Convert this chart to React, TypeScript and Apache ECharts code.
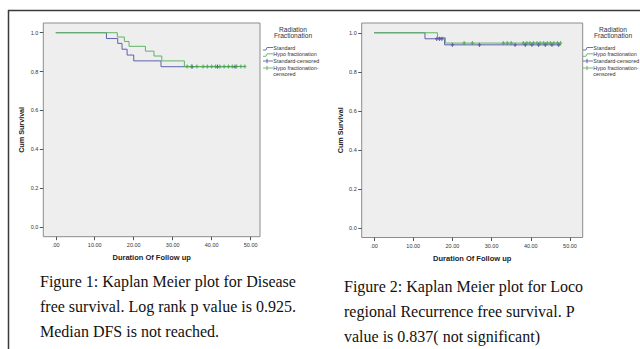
import React, { useEffect, useRef } from 'react';
import * as echarts from 'echarts';

// ---- tick values ----
const X_TICKS = [0, 10, 20, 30, 40, 50];
const Y_TICKS = [0, 0.2, 0.4, 0.6, 0.8, 1.0];

// ---- Figure 1: Disease free survival ----
const F1_STANDARD_T = [0, 13.0, 15.9, 17.0, 18.3, 20.0, 27.0, 46.0];
const F1_STANDARD_S = [1.0, 0.97, 0.945, 0.915, 0.885, 0.855, 0.825, 0.825];
const F1_HYPO_T = [0, 15.8, 17.6, 18.8, 23.0, 25.2, 27.2, 33.0, 48.5];
const F1_HYPO_S = [1.0, 0.978, 0.955, 0.93, 0.905, 0.88, 0.855, 0.826, 0.826];
const F1_STANDARD_CENS_T = [35.0, 41.5, 46.0];
const F1_HYPO_CENS_T = [33.7, 34.8, 36.2, 37.8, 38.9, 40.0, 41.0, 42.1, 43.2, 44.3, 45.3, 46.4, 47.5, 48.5];

// ---- Figure 2: Loco-regional recurrence free survival ----
const F2_STANDARD_T = [0, 13.0, 18.0, 47.6];
const F2_STANDARD_S = [1.0, 0.969, 0.938, 0.938];
const F2_HYPO_T = [0, 16.2, 18.2, 47.6];
const F2_HYPO_S = [1.0, 0.975, 0.947, 0.947];
const F2_STANDARD_CENS_T = [16.0, 16.7, 17.3, 20.0, 26.9, 36.0, 38.6, 40.3, 42.0, 43.7, 45.4, 47.1];
const F2_HYPO_CENS_T = [23.0, 25.1, 33.0, 34.0, 35.0, 38.1, 39.0, 39.8, 40.7, 41.6, 42.4, 43.3, 44.2, 45.0, 45.9, 46.8, 47.6];

// ---- texts ----
const LEGEND_TITLE = ['Radiation', 'Fractionation'];
const LEGEND_LABELS = ['Standard', 'Hypo fractionation', 'Standard-censored', 'Hypo fractionation-', 'censored'];
const Y_NAME = 'Cum Survival';
const X_NAME = 'Duration Of Follow up';
const CAPTION_1 = [
  'Figure 1: Kaplan Meier plot for Disease',
  'free survival. Log rank p value is 0.925.',
  'Median DFS is not reached.',
];
const CAPTION_2 = [
  'Figure 2: Kaplan Meier plot for Loco',
  'regional Recurrence free survival. P',
  'value is 0.837( not significant)',
];

const BLUE = '#5c62a8';
const GREEN = '#62b462';
const GREEN_MARK = '#43a34b';
const BLUE_MARK = '#4a5298';
const SANS = '"Liberation Sans", Arial, sans-serif';
const SERIF = '"Liberation Serif", "Times New Roman", serif';
const PLUS = 'path://M1,0H2V1H3V2H2V3H1V2H0V1H1Z';

const stepData = (t: number[], s: number[]) => t.map((v, i) => [v, s[i]]);
const levelAt = (t: number[], s: number[], x: number) => {
  let v = s[0];
  for (let i = 0; i < t.length; i++) if (t[i] <= x) v = s[i];
  return v;
};
const censData = (ct: number[], t: number[], s: number[]) => ct.map((x) => [x, levelAt(t, s, x)]);

export default function App() {
  const ref = useRef<HTMLDivElement>(null);

  useEffect(() => {
    if (!ref.current) return;
    const chart = echarts.init(ref.current, undefined, { renderer: 'svg' });

    const xAxis = (gridIndex: number, min: number, max: number) => ({
      type: 'value',
      gridIndex,
      min,
      max,
      name: X_NAME,
      nameLocation: 'middle',
      nameGap: 17,
      nameTextStyle: { fontFamily: SANS, fontSize: 7.5, fontWeight: 'bold', color: '#222' },
      axisLine: { show: false, onZero: false },
      axisTick: { show: true, length: 3.5, customValues: X_TICKS, lineStyle: { color: '#555' } },
      axisLabel: {
        customValues: X_TICKS,
        margin: 5.5,
        fontFamily: SANS,
        fontSize: 5.5,
        color: '#333',
        formatter: (v: number) => (v === 0 ? '.00' : v.toFixed(2)),
      },
      splitLine: { show: false },
    });
    const yAxis = (gridIndex: number) => ({
      type: 'value',
      gridIndex,
      min: -0.05,
      max: 1.05,
      name: Y_NAME,
      nameLocation: 'middle',
      nameGap: 18,
      nameRotate: 90,
      nameTextStyle: { fontFamily: SANS, fontSize: 7.2, fontWeight: 'bold', color: '#222' },
      axisLine: { show: false, onZero: false },
      axisTick: { show: true, length: 3.5, customValues: Y_TICKS, lineStyle: { color: '#555' } },
      axisLabel: {
        customValues: Y_TICKS,
        margin: 5,
        fontFamily: SANS,
        fontSize: 5.5,
        color: '#333',
        formatter: (v: number) => v.toFixed(1),
      },
      splitLine: { show: false },
    });

    const lineSeries = (idx: number, data: number[][], color: string, z: number) => ({
      type: 'line',
      xAxisIndex: idx,
      yAxisIndex: idx,
      step: 'end',
      data,
      symbol: 'none',
      lineStyle: { color, width: 1 },
      z,
      silent: true,
    });
    const censSeries = (idx: number, data: number[][], color: string, z: number) => ({
      type: 'scatter',
      xAxisIndex: idx,
      yAxisIndex: idx,
      data,
      symbol: PLUS,
      symbolSize: [3.2, 4.2],
      itemStyle: { color },
      z,
      silent: true,
    });

    const legendGraphics = (dx: number) => {
      const els: any[] = [];
      els.push({ type: 'text', x: 293 + dx, y: 29.5, style: { text: LEGEND_TITLE[0], font: `6.6px ${SANS}`, fill: '#333', textAlign: 'center', textVerticalAlign: 'middle' } });
      els.push({ type: 'text', x: 293 + dx, y: 35.8, style: { text: LEGEND_TITLE[1], font: `6.6px ${SANS}`, fill: '#333', textAlign: 'center', textVerticalAlign: 'middle' } });
      const ys = [47.7, 54, 61, 67.5, 73.5];
      LEGEND_LABELS.forEach((lab, i) => {
        els.push({ type: 'text', x: 273.3 + dx, y: ys[i], style: { text: lab, font: `5.4px ${SANS}`, fill: '#333', textAlign: 'left', textVerticalAlign: 'middle' } });
      });
      els.push({ type: 'polyline', shape: { points: [[263 + dx, 50], [266 + dx, 50], [267 + dx, 47.5], [273 + dx, 47.5]] }, style: { stroke: BLUE, lineWidth: 0.9, fill: null } });
      els.push({ type: 'polyline', shape: { points: [[263 + dx, 56.3], [266 + dx, 56.3], [267 + dx, 53.8], [273 + dx, 53.8]] }, style: { stroke: GREEN, lineWidth: 0.9, fill: null } });
      els.push({ type: 'line', shape: { x1: 263 + dx, y1: 61, x2: 273 + dx, y2: 61 }, style: { stroke: BLUE, lineWidth: 0.9 } });
      els.push({ type: 'line', shape: { x1: 267 + dx, y1: 58.8, x2: 267 + dx, y2: 63.2 }, style: { stroke: BLUE, lineWidth: 1 } });
      els.push({ type: 'line', shape: { x1: 263 + dx, y1: 68, x2: 273 + dx, y2: 68 }, style: { stroke: GREEN, lineWidth: 0.9 } });
      els.push({ type: 'line', shape: { x1: 267 + dx, y1: 65.8, x2: 267 + dx, y2: 70.2 }, style: { stroke: GREEN, lineWidth: 1 } });
      return els;
    };

    const captionGraphics = (x: number, y0: number, lines: string[]) =>
      lines.map((t, i) => ({
        type: 'text',
        x,
        y: y0 + i * 25,
        style: { text: t, font: `16px ${SERIF}`, fill: '#111', textAlign: 'left', textVerticalAlign: 'middle' },
      }));

    chart.setOption({
      animation: false,
      backgroundColor: '#ffffff',
      grid: [
        { left: 43.3, top: 23, width: 216.7, height: 213.7, show: true, backgroundColor: '#eeeeee', borderColor: '#8c8c8c', borderWidth: 1 },
        { left: 361.7, top: 23, width: 221, height: 214.5, show: true, backgroundColor: '#eeeeee', borderColor: '#8c8c8c', borderWidth: 1 },
      ],
      xAxis: [xAxis(0, -3.2, 52.4), xAxis(1, -3.15, 53.25)],
      yAxis: [yAxis(0), yAxis(1)],
      series: [
        lineSeries(0, stepData(F1_STANDARD_T, F1_STANDARD_S), BLUE, 2),
        lineSeries(0, stepData(F1_HYPO_T, F1_HYPO_S), GREEN, 3),
        censSeries(0, censData(F1_STANDARD_CENS_T, F1_STANDARD_T, F1_STANDARD_S), BLUE_MARK, 4),
        censSeries(0, censData(F1_HYPO_CENS_T, F1_HYPO_T, F1_HYPO_S), GREEN_MARK, 5),
        lineSeries(1, stepData(F2_STANDARD_T, F2_STANDARD_S), BLUE, 2),
        lineSeries(1, stepData(F2_HYPO_T, F2_HYPO_S), GREEN, 3),
        censSeries(1, censData(F2_STANDARD_CENS_T, F2_STANDARD_T, F2_STANDARD_S), BLUE_MARK, 4),
        censSeries(1, censData(F2_HYPO_CENS_T, F2_HYPO_T, F2_HYPO_S), GREEN_MARK, 5),
      ],
      graphic: [
        { type: 'line', shape: { x1: 8, y1: 10.5, x2: 640, y2: 10.5 }, style: { stroke: '#3a3a3a', lineWidth: 1.5 }, z: 200 },
        { type: 'line', shape: { x1: 8.5, y1: 10, x2: 8.5, y2: 349 }, style: { stroke: '#3a3a3a', lineWidth: 1.5 }, z: 200 },
        ...legendGraphics(0),
        ...legendGraphics(320),
        { type: 'rect', shape: { x: 320, y: 40, width: 14, height: 40 }, style: { fill: '#ffffff' }, z: 150 },
        ...captionGraphics(40, 281, CAPTION_1),
        ...captionGraphics(344, 286, CAPTION_2),
      ],
    });

    return () => chart.dispose();
  }, []);

  return (
    <div
      ref={ref}
      style={{ position: 'fixed', left: 0, top: 0, width: 640, height: 349, background: '#fff' }}
    />
  );
}
